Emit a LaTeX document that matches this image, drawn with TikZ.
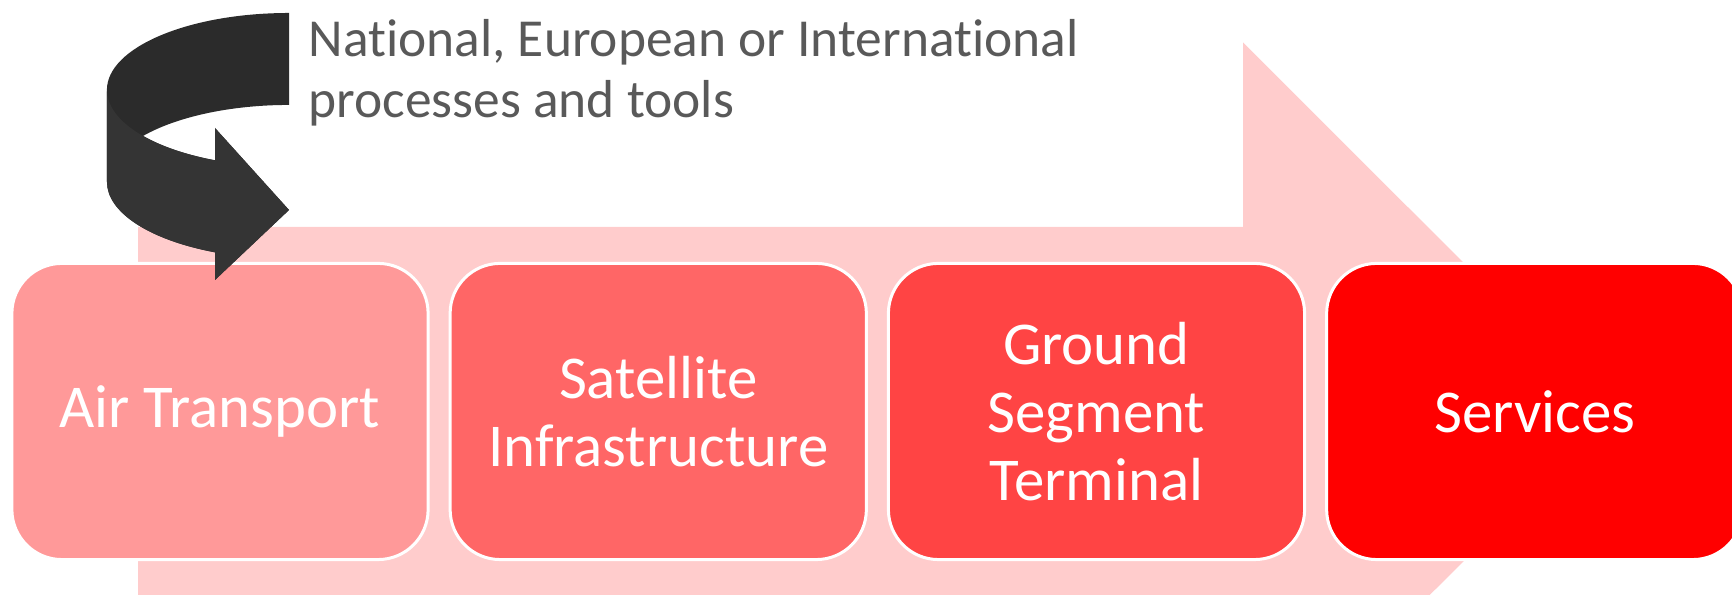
\documentclass[tikz,border=0pt]{standalone}
\usepackage{fontspec}
\setmainfont{Carlito}[Ligatures=NoCommon]
\usetikzlibrary{positioning}
\definecolor{flowbg}{HTML}{FFCCCC}
\definecolor{stepone}{HTML}{FF9999}
\definecolor{steptwo}{HTML}{FF6666}
\definecolor{stepthree}{HTML}{FF4444}
\definecolor{stepfour}{HTML}{FF0000}
\definecolor{loopback}{HTML}{2B2B2B}
\definecolor{loopfront}{HTML}{343434}
\definecolor{notegray}{HTML}{595959}

\begin{document}
\begin{tikzpicture}[x=0.01cm,y=0.01cm,node distance=0.19cm,
		stage/.style={draw=white,line width=0.03cm,rounded corners=0.5cm,minimum width=4.16cm,minimum height=2.96cm,inner sep=0pt,text=white,align=center,font=\fontsize{17.3}{19.4}\selectfont},
		ringarc/.style={x radius=1.82cm,y radius=0.77cm}]
		\useasboundingbox (0,0) rectangle (1732,595);
		\begin{scope}
			\clip (0,0) rectangle (1732,595);
			\fill[flowbg] (138,-2) -- (138,368) -- (1243,368) -- (1243,552.5) -- (1613,183) -- (1243,-186.5) -- (1243,-2) -- cycle; % big flow arrow
			\node[stage,fill=stepone] (air) at (220,183.5) {Air Transport};
			\node[stage,fill=steptwo,right=of air] (sat) {Satellite\\Infrastructure};
			\node[stage,fill=stepthree,right=of sat] (gst) {Ground\\Segment\\Terminal};
			\node[stage,fill=stepfour,right=of gst] (srv) {Services};
		\end{scope}
		% turning arrow
		\fill[loopback] (289,582) arc[ringarc,start angle=90,end angle=180] -- (107,413) arc[ringarc,start angle=180,end angle=246]
			-- (215,315) -- (289,385) -- (215,467) -- (215,434.7) arc[ringarc,start angle=246,end angle=216.7]
			arc[ringarc,start angle=143.3,end angle=90] -- cycle;
		\fill[loopfront] (107,505) arc[ringarc,start angle=180,end angle=246] -- (215,467) -- (289,385) -- (215,315)
			-- (215,342.7) arc[ringarc,start angle=246,end angle=180] -- cycle;
		\node[anchor=north west,inner sep=0pt,align=left,text=notegray,font=\fontsize{15.2}{17.4}\selectfont] (tools) at (308,576) {National, European or International\\processes and tools};
\end{tikzpicture}
\end{document}
